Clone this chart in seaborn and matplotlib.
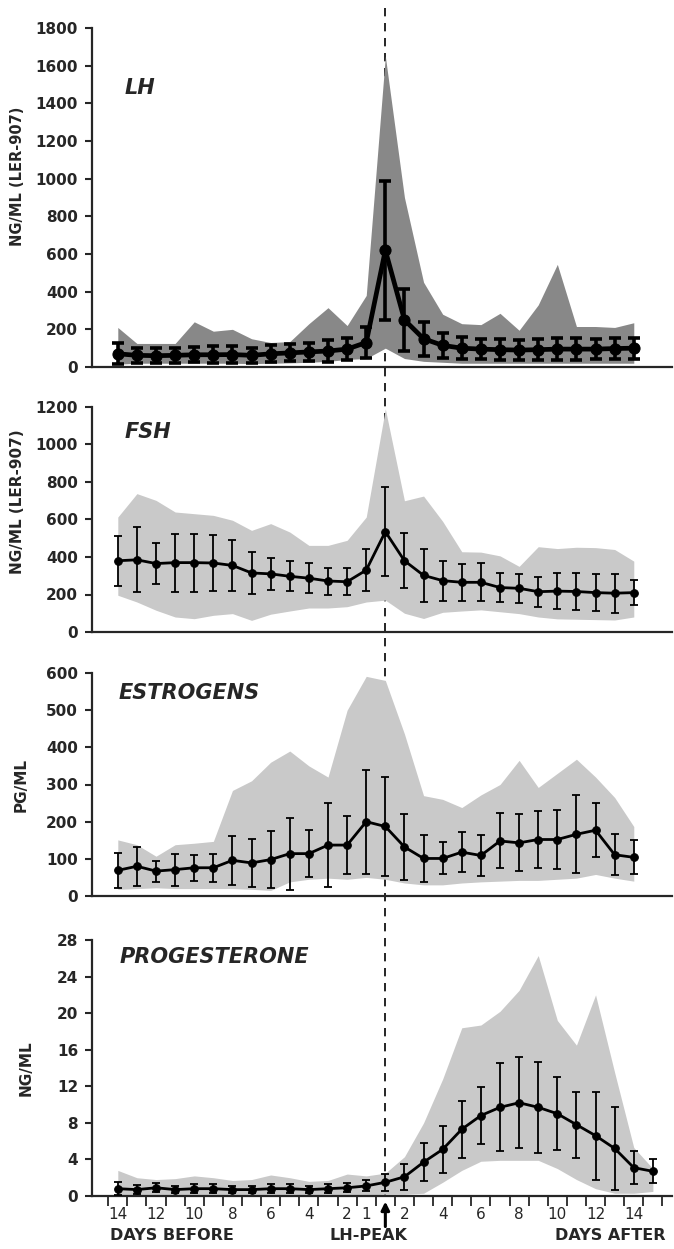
import matplotlib
matplotlib.use("Agg")
import matplotlib.pyplot as plt
import matplotlib.transforms as mtransforms
from matplotlib.lines import Line2D
import numpy as np
import pandas as pd
import seaborn as sns

# ---------------- data (days relative to LH peak) ----------------
days_28 = [-14, -13, -12, -11, -10, -9, -8, -7, -6, -5, -4, -3, -2, -1,
           0, 1, 2, 3, 4, 5, 6, 7, 8, 9, 10, 11, 12, 13]
days_29 = days_28 + [14]

lh_mean = [70, 62, 60, 62, 65, 65, 66, 62, 70, 75, 80, 85, 95, 130,
           620, 250, 150, 115, 100, 95, 92, 90, 92, 95, 95, 95, 98, 100]
lh_sd = [55, 40, 40, 40, 40, 45, 45, 40, 45, 45, 50, 60, 60, 80,
         370, 165, 90, 65, 60, 55, 55, 55, 55, 60, 60, 55, 55, 55]
lh_min = [15, 20, 20, 20, 20, 20, 20, 18, 20, 22, 25, 30, 40, 45,
          100, 45, 30, 25, 20, 20, 20, 20, 20, 20, 20, 20, 20, 20]
lh_max = [210, 125, 125, 125, 240, 190, 200, 150, 130, 135, 230, 315, 220, 380,
          1650, 900, 450, 280, 230, 225, 285, 195, 330, 545, 215, 215, 210, 235]

fsh_mean = [380, 385, 365, 370, 370, 368, 355, 315, 310, 297, 287, 272, 268, 330,
            535, 380, 302, 274, 265, 265, 237, 233, 215, 218, 216, 210, 207, 210]
fsh_sd = [133, 173, 110, 155, 155, 151, 138, 111, 85, 80, 80, 72, 71, 111,
          238, 147, 142, 107, 98, 102, 78, 76, 80, 95, 100, 98, 105, 67]
fsh_min = [196, 160, 116, 80, 71, 89, 98, 62, 95, 112, 128, 128, 135, 160,
           170, 100, 72, 105, 112, 118, 108, 98, 80, 70, 68, 66, 64, 80]
fsh_max = [613, 738, 702, 640, 631, 622, 596, 542, 578, 533, 462, 462, 489, 613,
           1190, 700, 725, 590, 428, 426, 406, 350, 455, 445, 452, 450, 440, 378]

est_mean = [69, 80, 67, 71, 76, 76, 96, 89, 98, 114, 114, 137, 137, 200,
            187, 132, 101, 101, 118, 109, 148, 143, 152, 152, 166, 177, 111, 104]
est_sd = [47, 53, 28, 43, 35, 38, 66, 65, 77, 97, 64, 112, 79, 140,
          132, 88, 62, 43, 53, 55, 74, 77, 77, 80, 105, 72, 55, 46]
est_min = [18, 20, 22, 20, 20, 20, 20, 18, 15, 38, 45, 48, 45, 50,
           45, 35, 30, 30, 35, 38, 40, 42, 42, 45, 48, 58, 48, 40]
est_max = [151, 138, 107, 138, 142, 147, 284, 310, 360, 390, 350, 320, 500, 591,
           580, 436, 270, 260, 238, 272, 300, 365, 292, 330, 368, 320, 265, 187]

prog_mean = [0.8, 0.7, 0.9, 0.7, 0.8, 0.8, 0.7, 0.7, 0.8, 0.8, 0.7, 0.8, 0.9, 1.1,
             1.5, 2.1, 3.7, 5.1, 7.3, 8.8, 9.7, 10.2, 9.7, 9.0, 7.8, 6.6, 5.2, 3.1, 2.7]
prog_sd = [0.7, 0.5, 0.5, 0.4, 0.5, 0.5, 0.4, 0.4, 0.5, 0.5, 0.4, 0.5, 0.5, 0.6,
           0.9, 1.4, 2.1, 2.6, 3.1, 3.1, 4.8, 5.0, 5.0, 4.0, 3.6, 4.8, 4.5, 1.8, 1.3]
prog_min = [0.1, 0.1, 0.1, 0.1, 0.1, 0.1, 0.1, 0.1, 0.1, 0.1, 0.1, 0.1, 0.1, 0.1,
            0.2, 0.2, 0.3, 1.5, 2.8, 3.8, 3.9, 3.9, 3.9, 3.0, 1.8, 0.8, 0.3, 0.3, 0.5]
prog_max = [2.8, 2.0, 1.8, 1.9, 2.2, 2.0, 1.7, 1.8, 2.3, 2.0, 1.6, 1.7, 2.4, 2.2,
            2.5, 4.3, 8.0, 12.8, 18.4, 18.7, 20.2, 22.5, 26.3, 19.2, 16.5, 22.0, 13.5, 5.3, 3.0]

tick_days = [-14, -12, -10, -8, -6, -4, -2, -1, 1, 3, 5, 7, 9, 11, 13]
tick_labels = ["14", "12", "10", "8", "6", "4", "2", "1", "2", "4", "6", "8", "10", "12", "14"]

panels = [
    dict(name="LH", ylabel="NG/ML (LER-907)", days=days_28, mean=lh_mean, sd=lh_sd,
         lo=lh_min, hi=lh_max, ymax=1800, ystep=200),
    dict(name="FSH", ylabel="NG/ML (LER-907)", days=days_28, mean=fsh_mean, sd=fsh_sd,
         lo=fsh_min, hi=fsh_max, ymax=1200, ystep=200),
    dict(name="ESTROGENS", ylabel="PG/ML", days=days_28, mean=est_mean, sd=est_sd,
         lo=est_min, hi=est_max, ymax=600, ystep=100),
    dict(name="PROGESTERONE", ylabel="NG/ML", days=days_29, mean=prog_mean, sd=prog_sd,
         lo=prog_min, hi=prog_max, ymax=28, ystep=4),
]

# ---------------- layout ----------------
sns.set_style("ticks")
plt.rcParams["font.family"] = ["DejaVu Sans"]

W, H = 674, 1249
fig = plt.figure(figsize=(W / 100, H / 100), dpi=100)
fig.patch.set_facecolor("white")

left_px, right_px = 92, 672
# (top_px, bottom_px) of each panel plotting area
boxes = [(28, 367), (407, 632), (673, 896), (940, 1196)]
title_pos = [(0.057, 0.823), (0.057, 0.889), (0.045, 0.91), (0.048, 0.934)]
# right edge of the rotated y label, in axes fraction
ylab_pos = [(-0.115, 0.563), (-0.115, 0.58), (-0.11, 0.5), (-0.10, 0.5)]
ylab_size = [10.5, 11, 11, 11]

XMIN, XMAX = -15.35, 15.0
axes = []
for i, (p, (t, b)) in enumerate(zip(panels, boxes)):
    ax = fig.add_axes([left_px / W, 1 - b / H, (right_px - left_px) / W, (b - t) / H])
    ax.set_facecolor("none")
    axes.append(ax)
    is_lh = p["name"] == "LH"
    band_color = "#888888" if is_lh else "#c9c9c9"
    ax.fill_between(p["days"], p["lo"], p["hi"], color=band_color, linewidth=0, zorder=1)
    ax.errorbar(p["days"], p["mean"], yerr=p["sd"], fmt="none", ecolor="black",
                elinewidth=2.6 if is_lh else 1.3, capsize=4 if is_lh else 3,
                capthick=2.6 if is_lh else 1.3, zorder=3)
    df = pd.DataFrame({"day": p["days"], "value": p["mean"]})
    sns.lineplot(data=df, x="day", y="value", ax=ax, color="black",
                 linewidth=3.4 if is_lh else 2.0, marker="o",
                 markersize=8 if is_lh else 5.5, markeredgecolor="black",
                 errorbar=None, zorder=4)
    ax.set_xlim(XMIN, XMAX)
    ax.set_ylim(0, p["ymax"])
    ax.set_yticks(np.arange(0, p["ymax"] + 0.001, p["ystep"]))
    ax.set_yticklabels([str(int(v)) for v in np.arange(0, p["ymax"] + 0.001, p["ystep"])],
                       fontsize=11, fontweight="bold")
    ax.tick_params(axis="y", direction="out", length=5, width=1.5, pad=5)
    for s in ["top", "right"]:
        ax.spines[s].set_visible(False)
    for s in ["left", "bottom"]:
        ax.spines[s].set_linewidth(1.6)
    ax.set_xlabel("")
    ax.set_ylabel(p["ylabel"], fontsize=ylab_size[i], fontweight="bold")
    ax.yaxis.set_label_coords(*ylab_pos[i])
    ax.text(title_pos[i][0], title_pos[i][1], p["name"], transform=ax.transAxes,
            fontsize=15, fontweight="bold", fontstyle="italic", ha="left", va="center")
    if i < 3:
        ax.set_xticks([])
    else:
        ax.set_xticks(tick_days)
        ax.set_xticklabels(tick_labels, fontsize=11)
        ax.tick_params(axis="x", which="major", length=0, pad=8)
        ax.set_xticks(np.arange(-14.5, 14.6, 1.0), minor=True)
        ax.tick_params(axis="x", which="minor", direction="out", length=7, width=1.3)

ax_b = axes[-1]
# dashed LH-peak line across all panels
trans = mtransforms.blended_transform_factory(ax_b.transData, fig.transFigure)
fig.add_artist(Line2D([0, 0], [1 - 8 / H, 1 - 1196 / H], transform=trans,
                      color="black", linestyle=(0, (5, 4)), linewidth=1.2, zorder=-1))

# arrow marking the LH peak
ax_b.annotate("", xy=(0, 0), xycoords="data", xytext=(0, -22), textcoords="offset points",
              arrowprops=dict(arrowstyle="-|>", color="black", lw=2.2, shrinkA=0, shrinkB=4,
                              mutation_scale=12),
              annotation_clip=False)

ty = 1 - 1236 / H
fig.text(172 / W, ty, "DAYS BEFORE", ha="center", va="center", fontsize=11.5, fontweight="bold")
fig.text(368 / W, ty, "LH-PEAK", ha="center", va="center", fontsize=11.5, fontweight="bold")
fig.text(610 / W, ty, "DAYS AFTER", ha="center", va="center", fontsize=11.5, fontweight="bold")

fig.savefig("out.png", dpi=100, facecolor="white")
